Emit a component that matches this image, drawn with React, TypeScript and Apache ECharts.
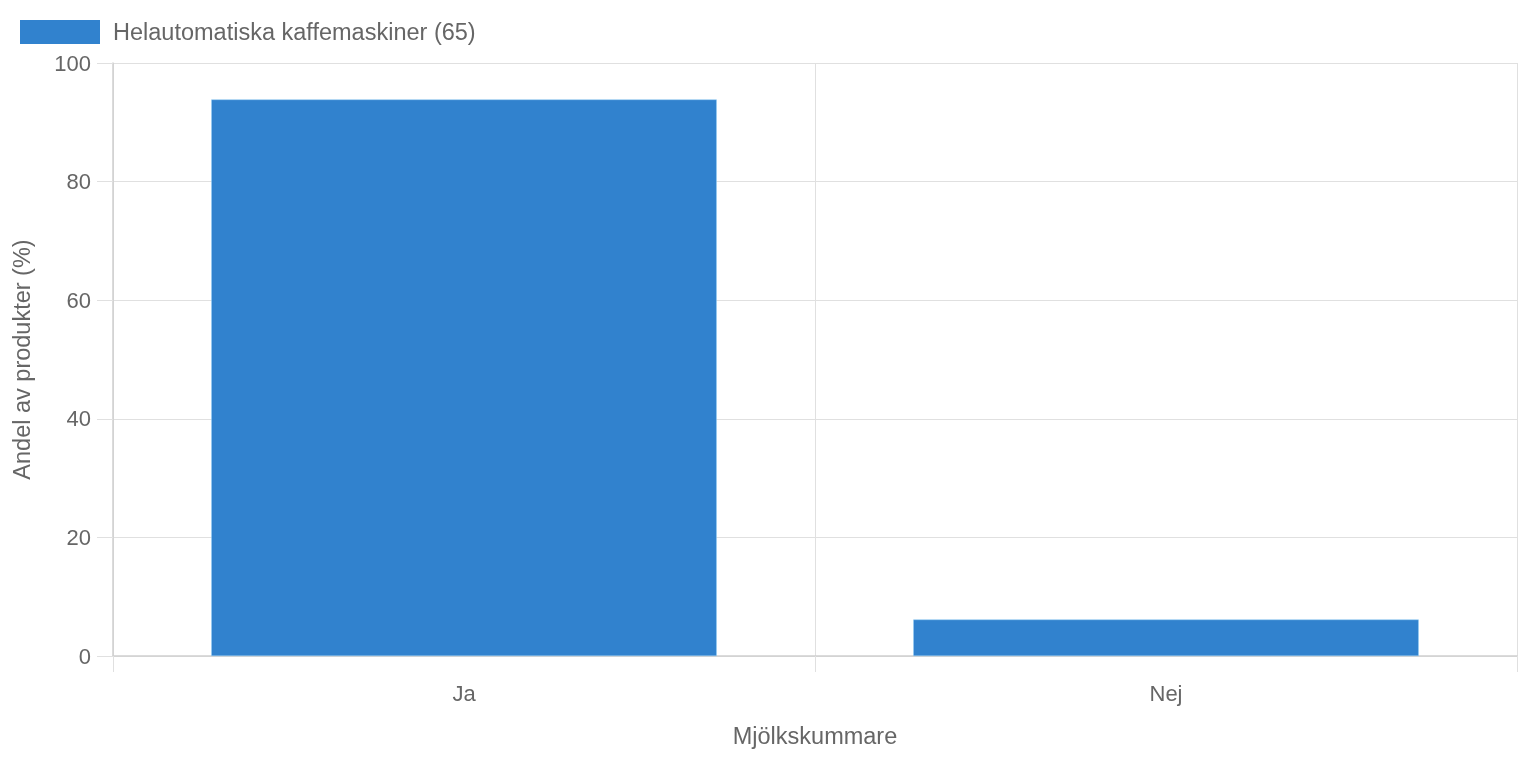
import React, { useEffect, useRef } from "react";
import * as echarts from "echarts";

const categories = ["Ja", "Nej"];
const seriesName = "Helautomatiska kaffemaskiner (65)";
const values = [93.85, 6.15];
const yTicks = [0, 20, 40, 60, 80, 100];

export default function App() {
  const ref = useRef<HTMLDivElement>(null);
  useEffect(() => {
    if (!ref.current) return;
    const chart = echarts.init(ref.current, undefined, { renderer: "svg" });
    const font = "Helvetica, 'Liberation Sans', Arial, sans-serif";
    chart.setOption({
      animation: false,
      textStyle: { fontFamily: font },
      legend: {
        show: true,
        left: 20,
        top: 20,
        padding: 0,
        itemWidth: 80,
        itemHeight: 24,
        icon: "rect",
        itemStyle: { borderWidth: 0 },
        textStyle: { color: "#666", fontSize: 23.5, fontFamily: font, padding: [0, 0, 0, 8] },
        data: [seriesName],
      },
      grid: { left: 113, right: 1, top: 63, bottom: 102, containLabel: false },
      xAxis: {
        type: "category",
        data: categories,
        boundaryGap: true,
        name: "Mjölkskummare",
        nameLocation: "middle",
        nameGap: 68,
        nameTextStyle: { color: "#666", fontSize: 23.5, fontFamily: font },
        axisLine: { show: true, lineStyle: { color: "#cfcfcf", width: 1.5 } },
        axisTick: { show: true, length: 16, lineStyle: { color: "#e0e0e0" } },
        axisLabel: { color: "#666", fontSize: 22, margin: 26, fontFamily: font },
        splitLine: { show: true, lineStyle: { color: "#e0e0e0" } },
      },
      yAxis: {
        type: "value",
        min: 0,
        max: yTicks[yTicks.length - 1],
        interval: 20,
        name: "Andel av produkter (%)",
        nameLocation: "middle",
        nameGap: 79,
        nameTextStyle: { color: "#666", fontSize: 23.5, fontFamily: font },
        axisLine: { show: true, lineStyle: { color: "#cfcfcf", width: 1.5 } },
        axisTick: { show: true, length: 16, lineStyle: { color: "#e0e0e0" } },
        axisLabel: { color: "#666", fontSize: 22, margin: 22, fontFamily: font },
        splitLine: { show: true, lineStyle: { color: "#e0e0e0" } },
      },
      series: [
        {
          name: seriesName,
          type: "bar",
          data: values,
          barCategoryGap: "28%",
          itemStyle: { color: "#3182ce", borderColor: "#90cdf4", borderWidth: 0.5 },
        },
      ],
    });
    return () => chart.dispose();
  }, []);
  return <div ref={ref} style={{ position: "fixed", left: 0, top: 0, width: 1518, height: 758 }} />;
}
